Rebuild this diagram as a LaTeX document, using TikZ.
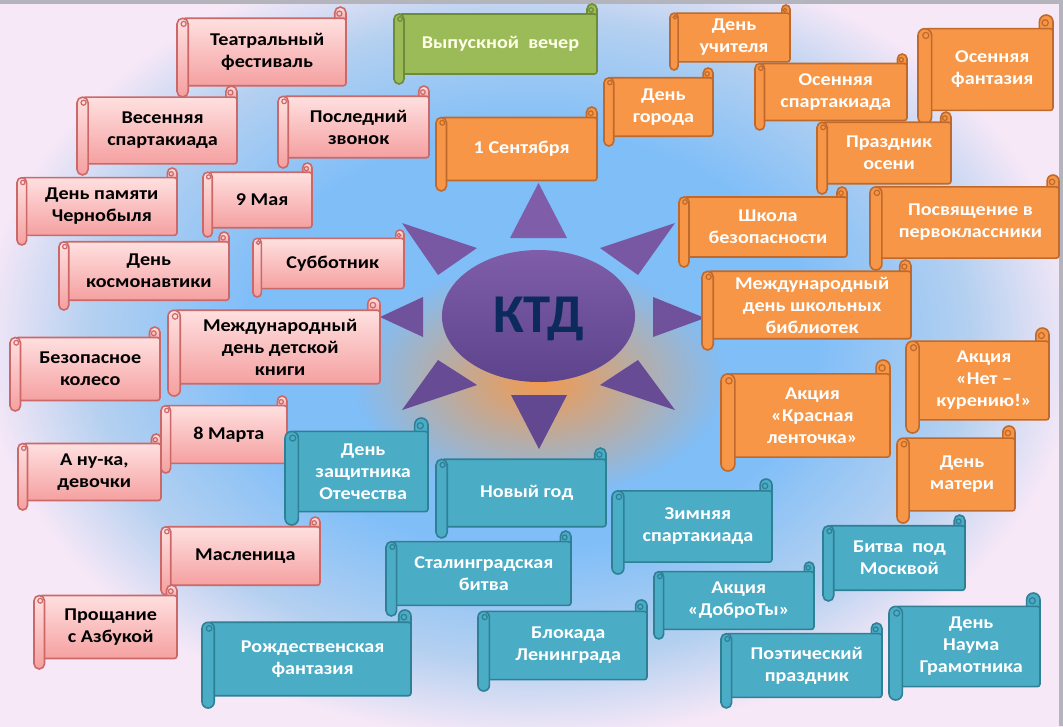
\documentclass[tikz,border=0pt]{standalone}
\usepackage{fontspec}
\setmainfont{Carlito}[FakeStretch=1.12]
\newfontfamily\ktdfont{Carlito}
\usetikzlibrary{fadings}
\definecolor{bgpink}{HTML}{F7E8F7}
\definecolor{bgblue}{HTML}{80BEF8}
\definecolor{bgmid}{HTML}{B4D0F0}
\definecolor{pinkT}{HTML}{FFE0E0}
\definecolor{pinkB}{HTML}{F5A0A0}
\definecolor{pinkE}{HTML}{CC6868}
\definecolor{orF}{HTML}{F79646}
\definecolor{orE}{HTML}{BF6A2C}
\definecolor{tlF}{HTML}{4BACC6}
\definecolor{tlE}{HTML}{2F7F95}
\definecolor{grF}{HTML}{9BBB59}
\definecolor{grE}{HTML}{6E8B3A}
\definecolor{grT}{HTML}{FFFFE8}
\definecolor{sunA}{HTML}{7F5DA9}
\definecolor{sunB}{HTML}{5D448C}
\definecolor{ktdc}{HTML}{0D2A5C}
\definecolor{glowc}{HTML}{F39A4E}
\definecolor{edgegray}{HTML}{B4B4BC}

\pgfdeclareradialshading{bgshade}{\pgfpoint{0bp}{0bp}}{color(0bp)=(bgblue); color(13bp)=(bgblue); color(20bp)=(bgmid); color(25bp)=(bgpink); color(50bp)=(bgpink)}
\tikzfading[name=glowfade, inner color=transparent!0, outer color=transparent!100]

\tikzset{
  lbl/.style={font=\fontsize{13.5}{16.5}\selectfont\bfseries, align=center, inner sep=0pt},
  pink body/.style={draw=pinkE, line width=1.2pt, top color=pinkT, bottom color=pinkB},
  pink line/.style={draw=pinkE, line width=0.9pt},
  pink text/.style={lbl, text=black},
  orange body/.style={draw=orE, line width=1.2pt, fill=orF},
  orange line/.style={draw=orE, line width=0.9pt},
  orange text/.style={lbl, text=white},
  teal body/.style={draw=tlE, line width=1.2pt, fill=tlF},
  teal line/.style={draw=tlE, line width=0.9pt},
  teal text/.style={lbl, text=white},
  green body/.style={draw=grE, line width=1.2pt, fill=grF},
  green line/.style={draw=grE, line width=0.9pt},
  green text/.style={lbl, text=grT},
}

% #1 name, #2 x0, #3 y0, #4 x1, #5 y1, #6 theme, #7 text
\newcommand\scrollbox[7]{%
  \pgfmathsetmacro\sch{0.125*(#5-#3)}%
  \pgfmathsetmacro\schh{0.5*\sch}%
  \pgfmathsetmacro\rcpt{0.375*\sch}%
  \pgfmathsetmacro\rqpt{0.17*\sch}%
  \path[#6 body, rounded corners=\rcpt pt] ({#4-\sch},{#3+\sch+3}) -- ({#4-\sch},{#3}) -- ({#4},{#3}) -- ({#4},{#3+\sch+3});
  \path[#6 body, rounded corners=2pt] ({#2+\schh},{#3+\sch}) rectangle ({#4},{#5-\sch});
  \path[#6 line] ({#4-\schh-1},{#3+\schh+1}) circle[radius=\rqpt pt];
  \path[#6 body, rounded corners=\rcpt pt] ({#2},{#3+\sch}) rectangle ({#2+\sch},{#5});
  \path[#6 line] ({#2+\schh+1},{#3+\sch+\schh}) circle[radius=\rqpt pt];
  \node[#6 text] (#1) at ({(#2+\sch+#4)/2},{(#3+#5)/2}) {#7};
}

\begin{document}
\begin{tikzpicture}[x=0.75pt,y=-0.75pt]
\useasboundingbox (0,0) rectangle (1063,726);
% background
\fill[bgpink] (0,0) rectangle (1063,726);
\begin{scope}
\clip (0,0) rectangle (1063,726);
\shade[shading=bgshade] (-20,-60) rectangle (1080,740);
\fill[glowc, path fading=glowfade] (540,380) ellipse [x radius=140pt, y radius=88pt];
\end{scope}
\fill[edgegray] (0,0) rectangle (1063,3.5);
\fill[edgegray] (1059,0) rectangle (1063,726);

% sun
\fill[sunA] (510,238) -- (567,238) -- (538.5,183) -- cycle;
\fill[sunA!80!sunB] (402,223) -- (477,248) -- (438,275) -- cycle;
\fill[sunA!80!sunB] (675,223) -- (600,248) -- (638,275) -- cycle;
\fill[sunA!55!sunB] (423,297) -- (423,337) -- (380,317) -- cycle;
\fill[sunA!55!sunB] (653,297) -- (653,337) -- (705,318) -- cycle;
\fill[sunA!30!sunB] (402,410) -- (438,360) -- (477,385) -- cycle;
\fill[sunA!30!sunB] (675,410) -- (638,360) -- (600,385) -- cycle;
\fill[sunA!15!sunB] (511,395) -- (567,395) -- (539,449) -- cycle;
\shade[top color=sunA, bottom color=sunB] (538.5,316) ellipse [x radius=72.4pt, y radius=49.5pt];
\node[font=\ktdfont\fontsize{41}{46}\selectfont\bfseries, text=ktdc, inner sep=0pt] (ktd) at (538.5,319) {КТД};

% pink
\scrollbox{teatr}{177}{7}{346}{97}{pink}{Театральный\\фестиваль}
\scrollbox{vesna}{77}{86}{237}{175}{pink}{Весенняя\\спартакиада}
\scrollbox{zvonok}{278}{86}{429}{168}{pink}{Последний\\звонок}
\scrollbox{chern}{17}{168}{177}{245}{pink}{День памяти\\Чернобыля}
\scrollbox{maya}{203}{163}{312}{237}{pink}{9 Мая}
\scrollbox{kosm}{59}{232}{229}{310}{pink}{День\\космонавтики}
\scrollbox{subb}{253}{230}{404}{297}{pink}{Субботник}
\scrollbox{kniga}{168}{298}{380}{396}{pink}{Международный\\день детской\\книги}
\scrollbox{koleso}{10}{327}{160}{411}{pink}{Безопасное\\колесо}
\scrollbox{mart}{161}{396}{287}{473}{pink}{8 Марта}
\scrollbox{anuka}{18}{434}{161}{510}{pink}{А ну-ка,\\девочки}
\scrollbox{masl}{161}{517}{320}{595}{pink}{Масленица}
\scrollbox{azbuka}{34}{585}{177}{669}{pink}{Прощание\\с Азбукой}

% green
\scrollbox{vypusk}{394}{4}{597}{84}{green}{Выпускной\ \ вечер}

% orange
\scrollbox{sent}{436}{107}{597}{191}{orange}{1 Сентября}
\scrollbox{gorod}{604}{68}{713}{146}{orange}{День\\города}
\scrollbox{uchit}{670}{5}{790}{70}{orange}{День\\учителя}
\scrollbox{ossp}{755}{54}{907}{130}{orange}{Осенняя\\спартакиада}
\scrollbox{osfan}{918}{15}{1053}{124}{orange}{Осенняя\\фантазия}
\scrollbox{shkola}{679}{187}{847}{267}{orange}{Школа\\безопасности}
\scrollbox{osen}{817}{112}{951}{194}{orange}{Праздник\\осени}
\scrollbox{posv}{870}{175}{1059}{270}{orange}{Посвящение в\\первоклассники}
\scrollbox{bibl}{702}{260}{911}{350}{orange}{Международный\\день школьных\\библиотек}
\scrollbox{kuren}{906}{328}{1049}{433}{orange}{Акция\\«Нет –\\курению!»}
\scrollbox{lent}{721}{360}{890}{471}{orange}{Акция\\«Красная\\ленточка»}
\scrollbox{mat}{897}{426}{1015}{523}{orange}{День\\матери}

% teal
\scrollbox{zasch}{285}{418}{428}{525}{teal}{День\\защитника\\Отечества}
\scrollbox{novy}{436}{448}{606}{538}{teal}{Новый год}
\scrollbox{zimn}{612}{479}{772}{574}{teal}{Зимняя\\спартакиада}
\scrollbox{moskva}{823}{515}{965}{601}{teal}{Битва\ \ под\\Москвой}
\scrollbox{stal}{386}{531}{571}{616}{teal}{Сталинградская\\битва}
\scrollbox{dobro}{654}{562}{814}{639}{teal}{Акция\\«ДоброТы»}
\scrollbox{naum}{889}{593}{1040}{700}{teal}{День\\Наума\\Грамотника}
\scrollbox{blok}{478}{600}{647}{691}{teal}{Блокада\\Ленинграда}
\scrollbox{rozhd}{202}{610}{411}{708}{teal}{Рождественская\\фантазия}
\scrollbox{poet}{721}{623}{882}{708}{teal}{Поэтический\\праздник}
\end{tikzpicture}
\end{document}
